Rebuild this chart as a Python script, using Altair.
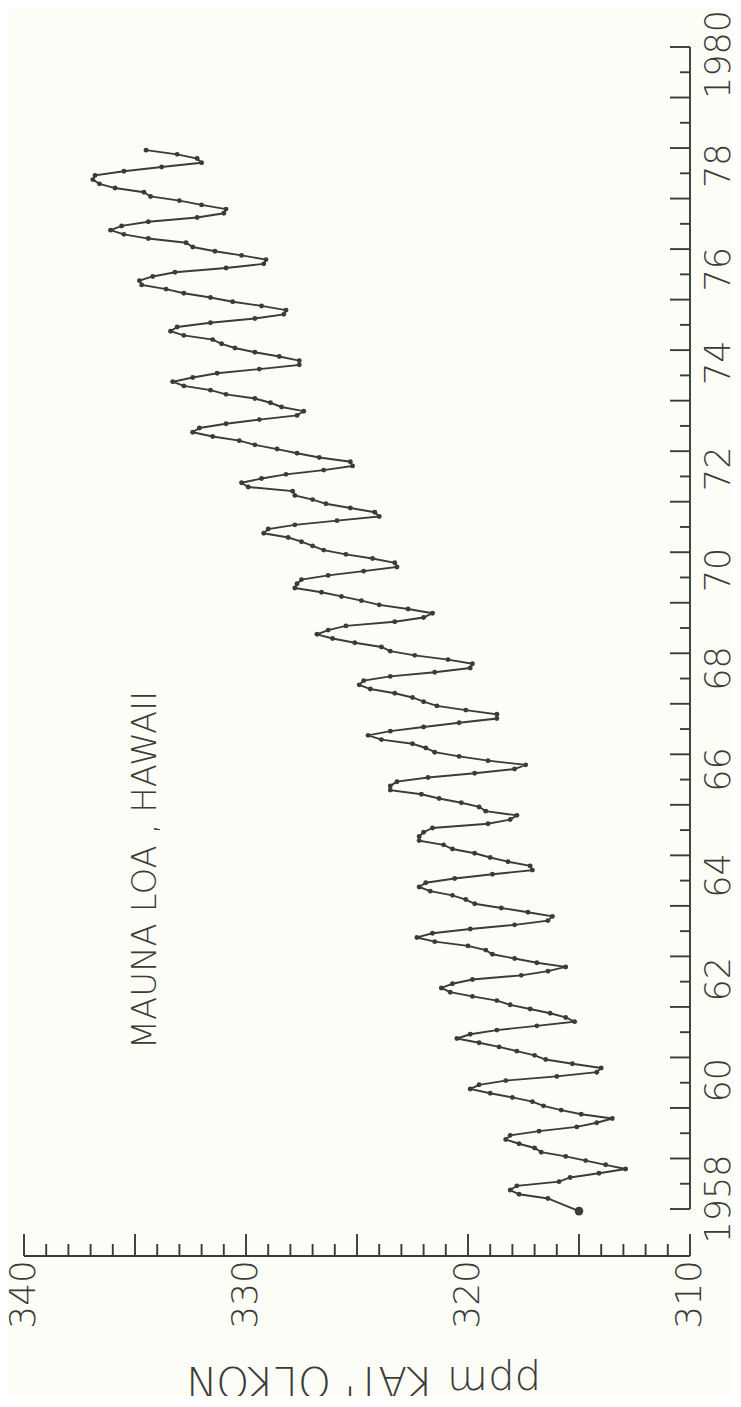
import altair as alt
import pandas as pd

# ---- data (ppm, Jan..Dec) ----
co2_1957_dec = [315.0]
co2_1958 = [None, None, 316.4, 317.7, 318.1, 317.8, 315.9, 315.4, 314.1, 312.9, 313.8, 314.7]
co2_1959 = [315.6, 316.7, 317.0, 317.7, 318.3, 318.1, 316.8, 315.1, 314.2, 313.5, 314.9, 315.8]
co2_1960 = [316.6, 317.1, 318.0, 319.0, 319.9, 319.5, 318.3, 316.0, 314.2, 314.0, 315.3, 316.5]
co2_1961 = [317.0, 317.8, 318.6, 319.5, 320.5, 319.9, 318.7, 316.9, 315.2, 315.6, 316.3, 317.2]
co2_1962 = [318.1, 318.7, 319.8, 320.8, 321.2, 320.7, 319.8, 317.6, 316.4, 315.6, 316.9, 317.9]
co2_1963 = [318.9, 319.2, 320.0, 321.5, 322.3, 321.6, 319.9, 317.9, 316.4, 316.2, 317.3, 318.5]
co2_1964 = [319.7, 320.1, 320.7, 321.7, 322.2, 321.9, 320.6, 318.9, 317.1, 317.2, 318.2, 319.0]
co2_1965 = [319.7, 320.7, 321.1, 322.2, 322.2, 322.0, 321.6, 319.1, 318.1, 317.8, 319.2, 319.5]
co2_1966 = [320.3, 321.3, 322.1, 323.5, 323.5, 323.2, 321.8, 319.7, 317.9, 317.4, 319.1, 320.4]
co2_1967 = [321.5, 321.9, 322.5, 323.9, 324.5, 323.5, 322.0, 320.4, 318.7, 318.7, 320.1, 321.4]
co2_1968 = [322.0, 322.5, 323.3, 324.4, 324.9, 324.7, 323.5, 321.5, 319.9, 319.8, 320.9, 322.4]
co2_1969 = [323.5, 323.9, 325.1, 326.1, 326.8, 326.3, 325.5, 323.3, 322.0, 321.6, 322.7, 324.0]
co2_1970 = [324.8, 325.7, 326.6, 327.8, 327.7, 327.5, 326.3, 324.7, 323.2, 323.3, 324.3, 325.5]
co2_1971 = [326.5, 327.0, 327.5, 328.1, 329.2, 329.0, 327.8, 325.9, 324.0, 324.2, 325.3, 326.4]
co2_1972 = [327.0, 327.8, 327.9, 329.9, 330.2, 329.3, 328.2, 326.5, 325.2, 325.3, 326.7, 327.7]
co2_1973 = [328.6, 329.6, 330.3, 331.5, 332.4, 332.1, 330.9, 329.4, 327.7, 327.4, 328.4, 328.9]
co2_1974 = [329.6, 330.9, 331.6, 332.8, 333.3, 332.4, 331.3, 329.4, 327.6, 327.6, 328.5, 329.6]
co2_1975 = [330.5, 331.1, 331.5, 332.8, 333.4, 333.1, 331.6, 329.6, 328.3, 328.2, 329.3, 330.6]
co2_1976 = [331.6, 332.8, 333.6, 334.7, 334.8, 334.2, 333.2, 330.9, 329.2, 329.1, 330.2, 331.4]
co2_1977 = [332.4, 332.7, 334.4, 335.5, 336.1, 335.6, 334.4, 332.2, 331.0, 330.9, 332.0, 333.0]
co2_1978 = [334.3, 334.6, 335.9, 336.6, 336.9, 336.8, 335.5, 333.8, 332.0, 332.2, 333.1, 334.5]

years = list(range(1958, 1979))
series = [co2_1958, co2_1959, co2_1960, co2_1961, co2_1962, co2_1963, co2_1964,
          co2_1965, co2_1966, co2_1967, co2_1968, co2_1969, co2_1970, co2_1971,
          co2_1972, co2_1973, co2_1974, co2_1975, co2_1976, co2_1977, co2_1978]
months = list(range(1, 13))

# axis tick / label values
ppm_major = [310, 315, 320, 325, 330, 335, 340]
ppm_minor = [v for v in range(311, 340) if v % 5 != 0]
ppm_labels = [310, 320, 330, 340]
year_major = list(range(1958, 1982))
year_minor = [y + 0.5 for y in range(1958, 1981)]
year_label_pos = [1958.2, 1960.55, 1962.55, 1964.6, 1966.7, 1968.7, 1970.65,
                  1972.65, 1974.75, 1976.6, 1978.65, 1980.85]
year_label_txt = ["1958", "60", "62", "64", "66", "68", "70", "72", "74", "76", "78", "1980"]

rows = [{"t": 1957 + 11.5 / 12, "ppm": co2_1957_dec[0]}]
for yr, vals in zip(years, series):
    for m, v in zip(months, vals):
        if v is not None:
            rows.append({"t": yr + (m - 0.5) / 12, "ppm": v})
df = pd.DataFrame(rows)
first = df.iloc[[0]]

W, H = 666, 1209
INK = "#3b3c35"
FONT = "DejaVu Sans"
SW = 1.9

xs = alt.Scale(domain=[310, 340], reverse=True, nice=False, zero=False)
ys = alt.Scale(domain=[1957.07, 1981.0], nice=False, zero=False)
X = lambda f: alt.X(f, scale=xs, axis=None)
Y = lambda f: alt.Y(f, scale=ys, axis=None)

line = alt.Chart(df).mark_line(color=INK, strokeWidth=SW).encode(
    x=X("ppm:Q"), y=Y("t:Q"), order="t:Q")
pts = alt.Chart(df).mark_circle(color=INK, size=24, opacity=1).encode(
    x=X("ppm:Q"), y=Y("t:Q"))
big = alt.Chart(first).mark_circle(color=INK, size=75, opacity=1).encode(
    x=X("ppm:Q"), y=Y("t:Q"))

# ppm axis
ppm_line = alt.Chart(pd.DataFrame({"a": [340], "b": [310]})).mark_rule(
    color=INK, strokeWidth=SW).encode(x=X("a:Q"), x2="b:Q", y=alt.value(H))
ppm_tmaj = alt.Chart(pd.DataFrame({"v": ppm_major})).mark_rule(
    color=INK, strokeWidth=SW).encode(x=X("v:Q"), y=alt.value(H), y2=alt.value(H - 22))
ppm_tmin = alt.Chart(pd.DataFrame({"v": ppm_minor})).mark_rule(
    color=INK, strokeWidth=SW).encode(x=X("v:Q"), y=alt.value(H), y2=alt.value(H - 12))
ppm_lab = alt.Chart(pd.DataFrame({"v": ppm_labels, "s": [str(v) for v in ppm_labels]})).mark_text(
    color=INK, font=FONT, fontSize=36, fontWeight=200, angle=270, align="right",
    baseline="middle").encode(x=X("v:Q"), y=alt.value(H + 4), text="s:N")

# year axis
yr_line = alt.Chart(pd.DataFrame({"a": [1958], "b": [1981]})).mark_rule(
    color=INK, strokeWidth=SW).encode(y=Y("a:Q"), y2="b:Q", x=alt.value(W))
yr_tmaj = alt.Chart(pd.DataFrame({"v": year_major})).mark_rule(
    color=INK, strokeWidth=SW).encode(y=Y("v:Q"), x=alt.value(W), x2=alt.value(W - 20))
yr_tmin = alt.Chart(pd.DataFrame({"v": year_minor})).mark_rule(
    color=INK, strokeWidth=SW).encode(y=Y("v:Q"), x=alt.value(W), x2=alt.value(W - 10))
yr_lab = alt.Chart(pd.DataFrame({"v": year_label_pos, "s": year_label_txt})).mark_text(
    color=INK, font=FONT, fontSize=35, fontWeight=200, angle=270, align="center",
    baseline="top").encode(y=Y("v:Q"), x=alt.value(W + 12), text="s:N")

# texts
title = alt.Chart(pd.DataFrame({"s": ["ppm KAT' OLKON"]})).mark_text(
    color=INK, font=FONT, fontSize=42, fontWeight=200, angle=180, align="center",
    baseline="middle").encode(x=alt.value(339), y=alt.value(H + 124), text="s:N")
place = alt.Chart(pd.DataFrame({"s": ["MAUNA LOA , HAWAII"]})).mark_text(
    color=INK, font=FONT, fontSize=34, fontWeight=200, angle=270, align="center",
    baseline="middle").encode(x=alt.value(122), y=alt.value(823), text="s:N")

chart = alt.layer(
    ppm_line, ppm_tmaj, ppm_tmin, ppm_lab, yr_line, yr_tmaj, yr_tmin, yr_lab,
    line, pts, big, title, place
).properties(
    width=W, height=H,
    autosize=alt.AutoSizeParams(type="none"),
    padding={"left": 16, "top": 39, "right": 43, "bottom": 140},
    background="#fdfdf8",
).configure_view(stroke=None)

chart.save("out.html", embed_options={"renderer": "svg", "actions": False})
